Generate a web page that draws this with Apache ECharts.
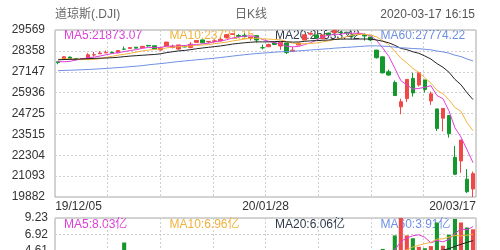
<!DOCTYPE html>
<html><head><meta charset="utf-8">
<script src="https://cdn.jsdelivr.net/npm/echarts@6/dist/echarts.min.js"></script>
<style>html,body{margin:0;padding:0;background:#fff}#c{width:500px;height:250px}</style>
</head><body><div id="c"></div>
<script>
const dates = ['19/12/05','19/12/06','19/12/09','19/12/10','19/12/11','19/12/12','19/12/13','19/12/16','19/12/17','19/12/18','19/12/19','19/12/20','19/12/23','19/12/24','19/12/26','19/12/27','19/12/30','19/12/31',
'20/01/02','20/01/03','20/01/06','20/01/07','20/01/08','20/01/09','20/01/10','20/01/13','20/01/14','20/01/15','20/01/16','20/01/17','20/01/21','20/01/22','20/01/23','20/01/24','20/01/27','20/01/28','20/01/29','20/01/30','20/01/31',
'20/02/03','20/02/04','20/02/05','20/02/06','20/02/07','20/02/10','20/02/11','20/02/12','20/02/13','20/02/14','20/02/18','20/02/19','20/02/20','20/02/21','20/02/24','20/02/25','20/02/26','20/02/27','20/02/28',
'20/03/02','20/03/03','20/03/04','20/03/05','20/03/06','20/03/09','20/03/10','20/03/11','20/03/12','20/03/13','20/03/16','20/03/17'];
const opens = [27726,27868,27996,27905,27898,27893,28123,28191,28242,28273,28249,28458,28491,28572,28539,28676,28654,28414,
28638,28553,28465,28639,28556,28852,28995,28874,28910,28939,29131,29313,29249,29263,29103,29242,28542,28596,28820,28640,28813,
28319,28696,28987,29328,29286,29060,29390,29406,29426,29440,29279,29317,29299,29167,28403,28011,27148,26526,25116,
25591,26763,26384,26672,25457,24992,24453,24605,22185,21974,20918,20346];
const closes = [27677.79,28015.06,27909.60,27881.72,27911.30,28132.05,28135.38,28235.89,28267.16,28239.28,28376.96,28455.09,28551.53,28515.45,28621.39,28645.26,28462.14,28538.44,
28868.80,28634.88,28703.38,28583.68,28745.09,28956.90,28823.77,28907.05,28939.67,29030.22,29297.64,29348.10,29196.04,29186.27,29160.09,28989.73,28535.80,28722.85,28734.45,28859.44,28256.03,
28399.81,28807.63,29290.85,29379.77,29102.51,29276.82,29276.34,29551.42,29423.31,29398.08,29232.19,29348.03,29219.98,28992.41,27960.80,27081.36,26957.59,25766.64,25409.36,
26703.32,25917.41,27090.86,26121.28,25864.78,23851.02,25018.16,23553.22,21200.62,23185.62,20188.52,21237.38];
const highs = [27729,28054,28035,27949,27929,28224,28290,28337,28376,28319,28377,28608,28582,28576,28622,28701,28664,28548,
28872,28717,28708,28685,28866,28957,29010,28910,29025,29127,29300,29373,29332,29373,29188,29242,28723,28780,28892,28860,28813,
28592,28840,29301,29408,29286,29278,29415,29568.57,29505,29463,29342,29406,29371,29167,28403,28027,27268,26636,25586,
26707,27084,27102,26672,25994,24992,25021,24605,22838,23190,21500,21362];
const lows = [27584,27868,27903,27801,27850,27859,28028,28191,28242,28221,28226,28402,28491,28503,28535,28608,28428,28376,
28627,28500,28418,28565,28502,28818,28806,28793,28885,28903,29131,29289,29138,29170,28959,28837,28440,28596,28700,28420,28170,
28319,28696,28987,29256,29056,29033,29235,29406,29349,29283,29140,29317,28950,28920,27912,27058,26916,25752,24681,
25391,25706,26286,25943,25227,23706,23690,23328,21154,21285,20117,19882];
// volume in 亿
const volumes = [2.5,2.6,2.4,2.5,2.7,2.8,2.4,2.5,2.9,2.6,
2.7,5.8,2.4,1.3,1.6,1.9,2.2,2.1,2.6,2.6,2.7,2.6,2.9,2.8,2.6,2.5,2.8,2.8,2.8,3.4,2.7,2.6,2.8,3.0,3.9,2.9,2.8,3.1,4.4,3.3,3.3,3.5,2.8,2.8,2.7,2.9,2.8,2.6,2.6,2.8,
2.5,3.0,3.2,4.3,4.9,4.5,6.8,9.23,6.8,6.4,
5.2,5.0,5.3,8.6,5.35,
6.9,9.1,8.6,7.9,7.65];
// closes before the window, used only for moving averages
const priorCloses = [27182.45,27219.52,27076.82,27110.80,27147.08,27094.79,26935.07,26949.99,26807.77,26970.71,26891.12,26820.25,26916.83,
26573.04,26078.62,26201.04,26573.72,26478.02,26164.04,26346.01,26496.67,26816.59,26787.36,27024.80,27001.98,27025.88,26770.20,26827.64,26788.10,26833.95,26805.53,26958.06,27090.72,27071.42,27186.69,27046.23,
27347.36,27462.11,27492.63,27492.56,27674.80,27681.24,27691.49,27691.49,27783.59,27781.96,28004.89,28036.22,27934.02,27821.09,27766.29,27875.62,28066.47,28121.68,28164.00,28051.41,
27783.04,27502.81,27649.78];
const yTicks = [19882,21093,22304,23515,24725,25936,27147,28358,29569];
const yTickLabels = ['19882','21093','22304','23515','24725','25936','27147','28358','29569'];
const volTicks = [0,2.31,4.61,6.92,9.23];
const volTickLabels = ['0.00','2.31','4.61','6.92','9.23'];
const xLabelIdx = [0,35,69];
const maPeriods = [5,10,20,60];
const maColors = ['#dd3fd8','#f0b23a','#2e3b4a','#6d8fe3'];
const maLineColors = ['#e03ddc','#f2b33c','#222222','#6d8fe3'];
const UP = '#f04848', DOWN = '#14982e';

const FONT = '"Liberation Sans", Arial, "Noto Sans CJK SC", sans-serif';
const allCloses = priorCloses.concat(closes);
function priceMA(n){
  return closes.map((_, i) => {
    const end = priorCloses.length + i;
    if (end - n + 1 < 0) return null;
    let s = 0; for (let k = end - n + 1; k <= end; k++) s += allCloses[k];
    return +(s / n).toFixed(2);
  });
}
function volMA(n){
  return volumes.map((_, i) => {
    if (i < n - 1) return null;
    let s = 0; for (let k = i - n + 1; k <= i; k++) s += volumes[k];
    return +(s / n).toFixed(4);
  });
}
const pMA = maPeriods.map(priceMA);
const vMA = maPeriods.map(volMA);
const last = closes.length - 1;

const ohlc = closes.map((c, i) => [opens[i], c, lows[i], highs[i]]);
const volData = volumes.map((v, i) => ({value: v, itemStyle: {color: closes[i] >= opens[i] ? UP : DOWN}}));

const gridDash = {color: '#cfcfcf', type: [2, 2], width: 1};
const chart = echarts.init(document.getElementById('c'), null, {renderer: 'canvas'});

const series = [{
  type: 'candlestick', xAxisIndex: 0, yAxisIndex: 0, data: ohlc, barWidth: '68%',
  itemStyle: {color: UP, color0: DOWN, borderColor: UP, borderColor0: DOWN, borderWidth: 1}
}];
maPeriods.forEach((p, k) => {
  series.push({type: 'line', xAxisIndex: 0, yAxisIndex: 0, data: pMA[k], symbol: 'none', showSymbol: false,
    lineStyle: {width: 1, color: maLineColors[k]}, z: 3});
});
series.push({type: 'bar', xAxisIndex: 2, yAxisIndex: 1, data: volData, barWidth: '68%'});
[0,1,2].forEach(k => {
  series.push({type: 'line', xAxisIndex: 2, yAxisIndex: 1, data: vMA[k], symbol: 'none', showSymbol: false,
    lineStyle: {width: 1, color: maLineColors[k]}, z: 3});
});

const graphic = [
  {type: 'text', x: 55, y: 15, style: {text: '道琼斯(.DJI)', fill: '#666', fontSize: 12, fontFamily: FONT, align: 'left', verticalAlign: 'middle'}},
  {type: 'text', x: 251, y: 15, style: {text: '日K线', fill: '#666', fontSize: 12, fontFamily: FONT, align: 'center', verticalAlign: 'middle'}},
  {type: 'text', x: 475, y: 15, style: {text: '2020-03-17 16:15', fill: '#555', fontSize: 12, fontFamily: FONT, align: 'right', verticalAlign: 'middle'}}
];
maPeriods.forEach((p, k) => {
  graphic.push({type: 'text', x: 64 + k * 105.5, y: 36, z: 0,
    style: {text: 'MA' + p + ':' + pMA[k][last].toFixed(2), fill: maColors[k], fontSize: 12, fontFamily: FONT, align: 'left', verticalAlign: 'middle'}});
});
maPeriods.forEach((p, k) => {
  const arr = volumes.slice(volumes.length - p);
  const m = arr.reduce((a, b) => a + b, 0) / p;
  graphic.push({type: 'text', x: 64 + k * 105.5, y: 225, z: 0,
    style: {text: 'MA' + p + ':' + m.toFixed(2) + '亿', fill: maColors[k], fontSize: 12, fontFamily: FONT, align: 'left', verticalAlign: 'middle'}});
});

const labW = 41;
chart.setOption({
  animation: false,
  textStyle: {fontFamily: FONT},
  grid: [
    {left: 55, top: 30, width: 421, height: 167, show: true, borderColor: '#a8a8a8', borderWidth: 1, outerBoundsMode: 'none', containLabel: false},
    {left: 55, top: 218, width: 421, height: 66, show: true, borderColor: '#a8a8a8', borderWidth: 1, outerBoundsMode: 'none', containLabel: false}
  ],
  graphic: {elements: graphic},
  xAxis: [
    {type: 'category', gridIndex: 0, data: dates, boundaryGap: true,
      axisLine: {show: false}, axisTick: {show: false}, splitLine: {show: false},
      axisLabel: {interval: (i) => xLabelIdx.indexOf(i) >= 0, margin: 4, color: '#333', fontSize: 12, hideOverlap: false,
        formatter: (v, i) => i === 0 ? '{l|' + v + '}' : (i === dates.length - 1 ? '{r|' + v + '}' : '{m|' + v + '}'),
        rich: {l: {padding: [0, 0, 0, labW], fontSize: 12, color: '#333'},
               r: {padding: [0, labW, 0, 0], fontSize: 12, color: '#333'},
               m: {padding: [0, 6, 0, 0], fontSize: 12, color: '#333'}}}},
    {type: 'value', gridIndex: 0, min: 0, max: 8, interval: 1, axisLine: {show: false}, axisTick: {show: false},
      axisLabel: {show: false}, splitLine: {show: true, lineStyle: gridDash}},
    {type: 'category', gridIndex: 1, data: dates, boundaryGap: true, axisLine: {show: false}, axisTick: {show: false},
      axisLabel: {show: false}, splitLine: {show: false}},
    {type: 'value', gridIndex: 1, min: 0, max: 8, interval: 1, axisLine: {show: false}, axisTick: {show: false},
      axisLabel: {show: false}, splitLine: {show: true, lineStyle: gridDash}}
  ],
  yAxis: [
    {type: 'value', gridIndex: 0, min: yTicks[0], max: yTicks[yTicks.length - 1],
      axisLine: {show: false}, axisTick: {show: false, customValues: yTicks},
      axisLabel: {customValues: yTicks, formatter: (v) => yTickLabels[yTicks.indexOf(v)], color: '#333', fontSize: 12, margin: 10},
      splitLine: {show: true, lineStyle: gridDash}},
    {type: 'value', gridIndex: 1, min: volTicks[0], max: volTicks[volTicks.length - 1],
      axisLine: {show: false}, axisTick: {show: false, customValues: volTicks},
      axisLabel: {customValues: volTicks, formatter: (v) => volTickLabels[volTicks.indexOf(v)], color: '#333', fontSize: 12, margin: 7},
      splitLine: {show: true, lineStyle: gridDash}}
  ],
  series: series
});
</script></body></html>
